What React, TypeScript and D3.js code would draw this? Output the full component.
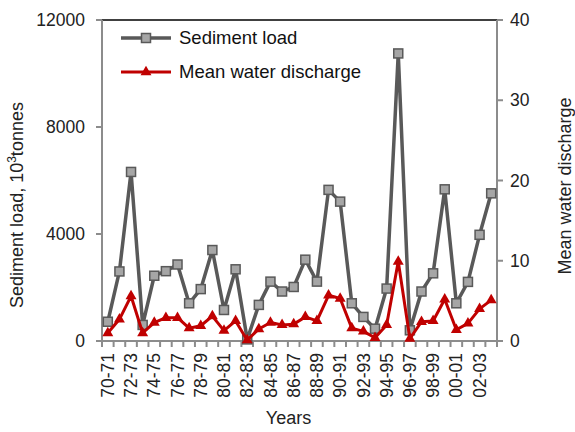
import React from "react"
import * as d3 from "d3"

const years = [
  "70-71", "71-72", "72-73", "73-74", "74-75", "75-76", "76-77", "77-78",
  "78-79", "79-80", "80-81", "81-82", "82-83", "83-84", "84-85", "85-86",
  "86-87", "87-88", "88-89", "89-90", "90-91", "91-92", "92-93", "93-94",
  "94-95", "95-96", "96-97", "97-98", "98-99", "99-00", "00-01", "01-02",
  "02-03", "03-04",
]

// 10^3 tonnes
const sedimentLoad = [
  720, 2600, 6320, 600, 2440, 2610, 2860, 1410, 1940, 3400, 1160, 2680,
  60, 1350, 2220, 1850, 2020, 3040, 2220, 5650, 5210, 1410, 900, 460,
  1960, 10750, 400, 1850, 2530, 5670, 1410, 2210, 3970, 5520,
]

const waterDischarge = [
  1.0, 2.7, 5.6, 1.0, 2.3, 2.9, 2.9, 1.6, 1.9, 3.1, 1.3, 2.5,
  0.1, 1.5, 2.3, 2.0, 2.1, 3.0, 2.5, 5.7, 5.3, 1.6, 1.2, 0.4,
  2.0, 9.9, 0.3, 2.4, 2.5, 5.2, 1.4, 2.2, 4.0, 5.1,
]

const leftTicks = [0, 4000, 8000, 12000]
const rightTicks = [0, 10, 20, 30, 40]

const W = 575
const H = 432
const margin = { top: 20, right: 78, bottom: 91, left: 102 }
const font = "'Liberation Sans', Arial, sans-serif"
const axisGrey = "#8c8c8c"
const sedGrey = "#595959"
const red = "#c00000"

export default function App() {
  const left = margin.left
  const right = W - margin.right
  const top = margin.top
  const bottom = H - margin.bottom

  const x = d3.scaleBand<string>().domain(years).range([left, right])
  const yL = d3.scaleLinear().domain([0, 12000]).range([bottom, top])
  const yR = d3.scaleLinear().domain([0, 40]).range([bottom, top])
  const cx = (d: string) => (x(d) as number) + x.bandwidth() / 2

  const sedLine = d3
    .line<number>()
    .x((_, i) => cx(years[i]))
    .y((d) => yL(d))
  const flowLine = d3
    .line<number>()
    .x((_, i) => cx(years[i]))
    .y((d) => yR(d))

  const tri = d3.symbol(d3.symbolTriangle, 52)()
  const boundaries = d3.range(years.length + 1).map((i) => left + i * x.step())

  return (
    <svg
      width={W}
      height={H}
      style={{ position: "absolute", left: 0, top: 0, background: "#fff" }}
      fontFamily={font}
    >
      {/* frame */}
      <line x1={left} x2={right} y1={top} y2={top} stroke="#000" strokeWidth={1.5} />
      <line x1={left} x2={left} y1={top} y2={bottom} stroke={axisGrey} strokeWidth={2} />
      <line x1={right} x2={right} y1={top} y2={bottom} stroke={axisGrey} strokeWidth={2} />
      <line x1={left} x2={right} y1={bottom} y2={bottom} stroke={axisGrey} strokeWidth={2} />

      {/* left axis */}
      {leftTicks.map((t) => (
        <g key={"l" + t}>
          <line x1={left - 6} x2={left} y1={yL(t)} y2={yL(t)} stroke={axisGrey} strokeWidth={2} />
          <text x={left - 17} y={yL(t)} dy="0.35em" textAnchor="end" fontSize={17.5} fill="#222">
            {t}
          </text>
        </g>
      ))}

      {/* right axis */}
      {rightTicks.map((t) => (
        <g key={"r" + t}>
          <line x1={right} x2={right + 6} y1={yR(t)} y2={yR(t)} stroke={axisGrey} strokeWidth={2} />
          <text x={right + 13} y={yR(t)} dy="0.35em" textAnchor="start" fontSize={17.5} fill="#222">
            {t}
          </text>
        </g>
      ))}

      {/* x axis */}
      {boundaries.map((b, i) => (
        <line key={"b" + i} x1={b} x2={b} y1={bottom} y2={bottom + 6} stroke={axisGrey} strokeWidth={2} />
      ))}
      {years.map((yr, i) =>
        i % 2 === 0 ? (
          <text
            key={yr}
            transform={`translate(${cx(yr)},${bottom + 12}) rotate(-90)`}
            dy="0.35em"
            textAnchor="end"
            fontSize={17.5}
            fill="#222"
          >
            {yr}
          </text>
        ) : null
      )}

      {/* axis titles */}
      <text x={(left + right) / 2 - 11} y={424} textAnchor="middle" fontSize={18} fill="#222">
        Years
      </text>
      <text
        transform={`translate(17,205) rotate(-90)`}
        dy="0.35em"
        textAnchor="middle"
        fontSize={18}
        fill="#222"
      >
        Sediment load, 10
        <tspan fontSize={12} dy="-7">3</tspan>
        <tspan dy="7">tonnes</tspan>
      </text>
      <text
        transform={`translate(565,186) rotate(-90)`}
        dy="0.35em"
        textAnchor="middle"
        fontSize={18}
        fill="#222"
      >
        Mean water discharge
      </text>

      {/* sediment series */}
      <path d={sedLine(sedimentLoad) as string} fill="none" stroke={sedGrey} strokeWidth={3.5} strokeLinejoin="round" />
      {sedimentLoad.map((v, i) => (
        <rect
          key={"s" + i}
          x={cx(years[i]) - 4.5}
          y={yL(v) - 4.5}
          width={9}
          height={9}
          fill="#a6a6a6"
          stroke={sedGrey}
          strokeWidth={1.5}
        />
      ))}

      {/* discharge series */}
      <path d={flowLine(waterDischarge) as string} fill="none" stroke={red} strokeWidth={3} strokeLinejoin="round" />
      {waterDischarge.map((v, i) => (
        <path key={"w" + i} d={tri as string} transform={`translate(${cx(years[i])},${yR(v)})`} fill={red} />
      ))}

      {/* legend */}
      <g>
        <line x1={121} x2={171} y1={38} y2={38} stroke={sedGrey} strokeWidth={3.5} />
        <rect x={141.5} y={33.5} width={9} height={9} fill="#a6a6a6" stroke={sedGrey} strokeWidth={1.5} />
        <text x={179} y={38} dy="0.35em" fontSize={18.5} fill="#111">
          Sediment load
        </text>
        <line x1={121} x2={171} y1={72} y2={72} stroke={red} strokeWidth={3} />
        <path d={tri as string} transform="translate(146,72)" fill={red} />
        <text x={179} y={72} dy="0.35em" fontSize={18.5} fill="#111">
          Mean water discharge
        </text>
      </g>
    </svg>
  )
}
